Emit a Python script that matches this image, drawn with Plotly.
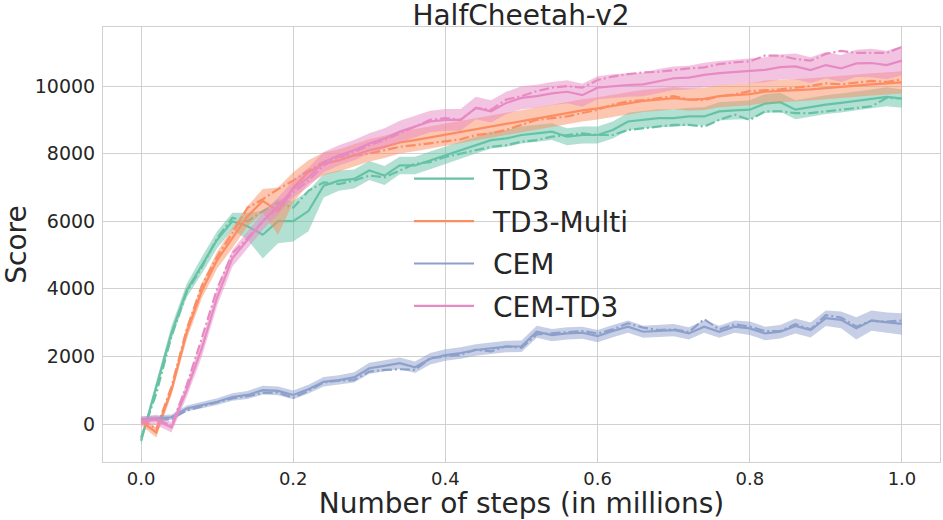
import plotly.graph_objects as go

steps = [0.00, 0.02, 0.04, 0.06, 0.08, 0.10, 0.12, 0.14, 0.16, 0.18,
         0.20, 0.22, 0.24, 0.26, 0.28, 0.30, 0.32, 0.34, 0.36, 0.38,
         0.40, 0.42, 0.44, 0.46, 0.48, 0.50, 0.52, 0.54, 0.56, 0.58,
         0.60, 0.62, 0.64, 0.66, 0.68, 0.70, 0.72, 0.74, 0.76, 0.78,
         0.80, 0.82, 0.84, 0.86, 0.88, 0.90, 0.92, 0.94, 0.96, 0.98, 1.00]

x_tick_vals = [0.0, 0.2, 0.4, 0.6, 0.8, 1.0]
x_tick_text = ["0.0", "0.2", "0.4", "0.6", "0.8", "1.0"]
y_tick_vals = [0, 2000, 4000, 6000, 8000, 10000]
y_tick_text = ["0", "2000", "4000", "6000", "8000", "10000"]

# TD3
td3_mean = [-500, 1100, 2700, 3950, 4700, 5450, 6000, 5850, 5600, 6000,
            6000, 6300, 7050, 7200, 7250, 7500, 7350, 7650, 7650, 7800,
            7950, 8100, 8250, 8400, 8450, 8550, 8600, 8650, 8500, 8550,
            8550, 8700, 8950, 9000, 9050, 9050, 9100, 9100, 9250, 9280,
            9300, 9480, 9520, 9300, 9380, 9450, 9500, 9550, 9620, 9680, 9630]
td3_median = [-400, 900, 2600, 3900, 4650, 5500, 6100, 6000, 6300, 6550,
              6400, 6900, 7150, 7100, 7200, 7350, 7300, 7500, 7700, 7750,
              7900, 8000, 8100, 8200, 8250, 8350, 8400, 8500, 8550, 8600,
              8550, 8550, 8700, 8750, 8800, 8850, 8850, 8800, 9000, 9150,
              9000, 9250, 9250, 9200, 9200, 9250, 9300, 9350, 9400, 9650, 9630]
td3_spread = [100, 150, 200, 200, 250, 250, 250, 400, 700, 650,
              600, 600, 350, 300, 280, 280, 280, 260, 260, 260,
              250, 250, 250, 250, 250, 250, 250, 250, 250, 250,
              250, 250, 260, 260, 260, 260, 260, 270, 270, 270,
              280, 280, 280, 280, 280, 280, 280, 280, 280, 280, 270]

# TD3-Multi
multi_mean = [80, -250, 1000, 2700, 3950, 4850, 5500, 6150, 6600, 6300,
              7000, 7450, 7700, 7800, 7950, 8100, 8200, 8330, 8400, 8480,
              8580, 8650, 8720, 8800, 8900, 8980, 9050, 9130, 9200, 9280,
              9340, 9420, 9480, 9560, 9600, 9640, 9600, 9620, 9700, 9730,
              9760, 9830, 9850, 9880, 9900, 9940, 9980, 10030, 10050, 10080, 10110]
multi_median = [150, -150, 1100, 2800, 4100, 4950, 5650, 6400, 6650, 6950,
                7200, 7500, 7750, 7900, 7950, 8000, 8100, 8200, 8250, 8300,
                8350, 8420, 8550, 8600, 8700, 8850, 9000, 9050, 9100, 9200,
                9300, 9450, 9550, 9580, 9650, 9700, 9600, 9580, 9700, 9750,
                9850, 9870, 9900, 9950, 10000, 10080, 10050, 10100, 10150, 10120, 10200]
multi_spread = [120, 150, 150, 200, 220, 250, 300, 300, 350, 700,
                450, 350, 330, 330, 330, 330, 330, 330, 330, 330,
                330, 330, 330, 330, 330, 330, 330, 330, 330, 330,
                330, 330, 330, 330, 330, 330, 330, 330, 330, 330,
                330, 330, 330, 330, 330, 330, 330, 330, 330, 330, 330]

# CEM
cem_mean = [140, 170, 200, 460, 560, 660, 800, 860, 1000, 980,
            860, 1030, 1250, 1300, 1380, 1650, 1720, 1800, 1680, 1930,
            2040, 2100, 2190, 2230, 2290, 2300, 2730, 2630, 2680, 2700,
            2600, 2750, 2880, 2730, 2760, 2780, 2680, 2880, 2730, 2880,
            2830, 2680, 2730, 2900, 2780, 3130, 3080, 2830, 3060, 3000, 2960]
cem_median = [100, 130, 150, 400, 520, 640, 760, 820, 920, 930,
              780, 980, 1230, 1280, 1300, 1550, 1600, 1620, 1600, 1950,
              2000, 2050, 2200, 2150, 2300, 2250, 2650, 2680, 2700, 2750,
              2680, 2800, 2980, 2850, 2780, 2800, 2720, 3100, 2800, 2950,
              2880, 2750, 2750, 2950, 2800, 3220, 3150, 2880, 3060, 3030, 3060]
cem_spread = [80, 80, 80, 90, 100, 100, 110, 120, 130, 130,
              130, 130, 140, 140, 150, 160, 170, 170, 170, 170,
              170, 170, 170, 170, 170, 170, 180, 180, 180, 180,
              180, 180, 180, 180, 180, 180, 180, 180, 180, 180,
              200, 200, 200, 220, 220, 230, 250, 330, 300, 300, 320]

# CEM-TD3
cemtd3_mean = [100, 120, -100, 1000, 2250, 3750, 4900, 5450, 6000, 6450,
               6950, 7300, 7750, 7950, 8100, 8300, 8450, 8650, 8800, 8950,
               9000, 9000, 9350, 9250, 9500, 9650, 9700, 9780, 9830, 9730,
               9950, 10000, 10030, 10050, 10150, 10230, 10250, 10330, 10380, 10420,
               10450, 10480, 10560, 10580, 10470, 10620, 10520, 10670, 10680, 10620, 10750]
cemtd3_median = [50, 150, -50, 1150, 2550, 4000, 5050, 5500, 6000, 6400,
                 6850, 7200, 7650, 7900, 8050, 8250, 8400, 8600, 8800, 9000,
                 9050, 9000, 9350, 9300, 9600, 9700, 9850, 9950, 10000, 9950,
                 10180, 10280, 10350, 10400, 10420, 10480, 10520, 10550, 10650, 10700,
                 10730, 10900, 10900, 10800, 10750, 10950, 11040, 10980, 10980, 10980, 11160]
cemtd3_spread = [120, 150, 150, 200, 250, 250, 250, 250, 250, 250,
                 250, 280, 300, 300, 300, 300, 300, 320, 320, 320,
                 320, 320, 330, 330, 330, 340, 340, 340, 340, 340,
                 340, 350, 350, 350, 350, 350, 350, 360, 360, 360,
                 360, 370, 370, 380, 380, 390, 400, 400, 420, 420, 430]

names = ["TD3", "TD3-Multi", "CEM", "CEM-TD3"]
colors = ["#66c2a5", "#fc8d62", "#8da0cb", "#e78ac3"]
fills = ["rgba(102,194,165,0.5)", "rgba(252,141,98,0.5)",
         "rgba(141,160,203,0.5)", "rgba(231,138,195,0.5)"]
means = [td3_mean, multi_mean, cem_mean, cemtd3_mean]
medians = [td3_median, multi_median, cem_median, cemtd3_median]
spreads = [td3_spread, multi_spread, cem_spread, cemtd3_spread]

fig = go.Figure()
for name, col, fc, m, md, sp in zip(names, colors, fills, means, medians, spreads):
    lower = [a - b for a, b in zip(m, sp)]
    upper = [a + b for a, b in zip(m, sp)]
    fig.add_trace(go.Scatter(x=steps, y=lower, mode="lines", line=dict(width=0),
                             showlegend=False, hoverinfo="skip", legendgroup=name))
    fig.add_trace(go.Scatter(x=steps, y=upper, mode="lines", line=dict(width=0),
                             fill="tonexty", fillcolor=fc, showlegend=False,
                             hoverinfo="skip", legendgroup=name))
    fig.add_trace(go.Scatter(x=steps, y=m, mode="lines", name="\u2002" + name,
                             line=dict(color=col, width=2.2), legendgroup=name))
    fig.add_trace(go.Scatter(x=steps, y=md, mode="lines", showlegend=False,
                             line=dict(color=col, width=2.2, dash="10px,3px,2px,3px"),
                             legendgroup=name))

font_family = "DejaVu Sans"
fig.update_layout(
    width=943, height=520,
    margin=dict(l=103, r=3, t=27, b=58, autoexpand=False),
    paper_bgcolor="white", plot_bgcolor="white",
    font=dict(family=font_family, color="#262626"),
    title=dict(text="HalfCheetah-v2", x=0.5525, xanchor="center", y=0.99,
               yanchor="top", yref="container", font=dict(size=28)),
    legend=dict(x=0.3656, y=0.708, xanchor="left", yanchor="top",
                bgcolor="rgba(0,0,0,0)", font=dict(size=28),
                tracegroupgap=3, itemwidth=60),
    showlegend=True,
)
fig.update_xaxes(range=[-0.05, 1.05], tickvals=x_tick_vals, ticktext=x_tick_text,
                 showgrid=True, gridcolor="#d0d0d0", gridwidth=1, automargin=False,
                 showline=True, linecolor="#d0d0d0", mirror=True, zeroline=False,
                 ticks="", tickfont=dict(size=18),
                 title=dict(text="Number of steps (in millions)", font=dict(size=28), standoff=8))
fig.update_yaxes(range=[-1124, 11746], tickvals=y_tick_vals, ticktext=y_tick_text,
                 showgrid=True, gridcolor="#d0d0d0", gridwidth=1, automargin=False,
                 showline=True, linecolor="#d0d0d0", mirror=True, zeroline=False,
                 ticks="", tickfont=dict(size=19), ticklabelstandoff=3,
                 title=dict(text="Score", font=dict(size=28), standoff=18))

fig.write_html("out.html", config={"displayModeBar": False},
               post_script="document.body.style.margin='0';")
